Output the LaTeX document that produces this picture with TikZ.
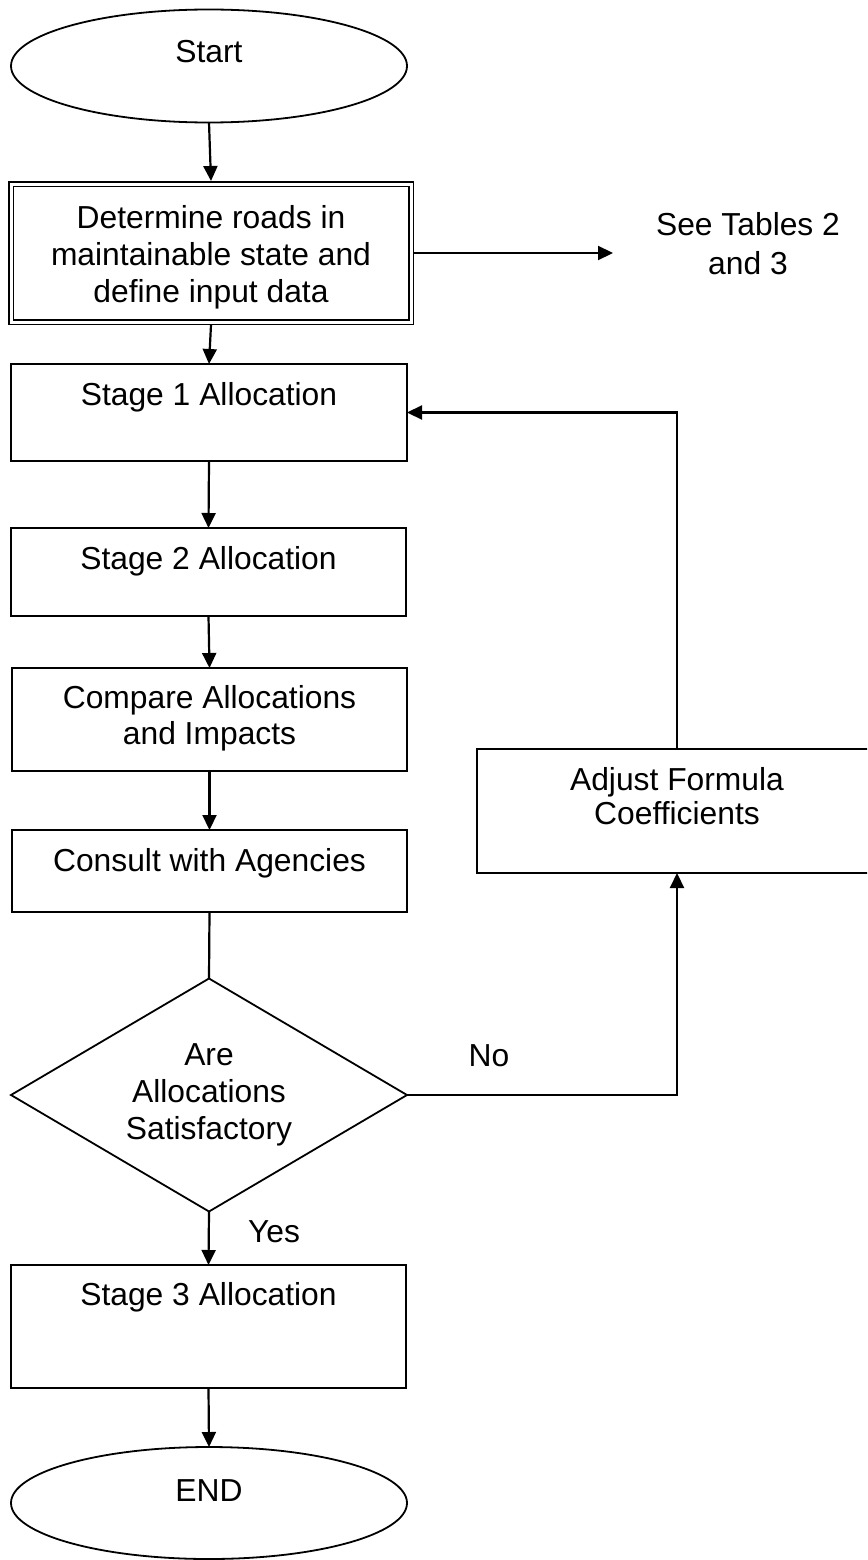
\documentclass[tikz,border=0pt]{standalone}
\usepackage{fontspec}
\setmainfont{Liberation Sans}
\usetikzlibrary{shapes.geometric,arrows.meta}
\begin{document}
\begin{tikzpicture}[x=1pt,y=-1pt,
  every node/.style={font=\fontsize{31.8}{37}\selectfont, inner sep=0pt, outer sep=0pt},
  term/.style={draw, ellipse, line width=1.8pt, minimum width=396pt, minimum height=113pt},
  procbox/.style={draw, rectangle, line width=1.8pt, align=center},
  decbox/.style={draw, diamond, line width=1.8pt, align=center, minimum width=396pt, minimum height=233pt, aspect=1.7},
  flow/.style={line width=2.2pt, -{Triangle[length=15pt,width=14pt]}},
  plain/.style={line width=2.2pt}
]
\useasboundingbox (0,0) rectangle (867,1560);
\clip (0,0) rectangle (867,1560);

\node[term, text height=22pt, text depth=28pt] (start) at (209,66) {Start};

\node[procbox, double, line width=1.6pt, double distance=3pt, outer sep=3pt,
      minimum width=400pt, minimum height=138pt,
      text height=118pt, text depth=20pt] (det) at (211,253)
  {Determine roads in\\maintainable state and\\define input data};

\node[align=center, font=\fontsize{31.8}{39}\selectfont] (see) at (748,244) {See Tables 2\\and 3};
\coordinate (seeend) at (613,253);

\node[procbox, minimum width=396pt, minimum height=97pt, text height=41pt, text depth=56pt] (s1) at (209,412.5) {Stage 1 Allocation};
\node[procbox, minimum width=395pt, minimum height=88pt, text height=41pt, text depth=47pt] (s2) at (208.5,572) {Stage 2 Allocation};
\node[procbox, minimum width=395pt, minimum height=103pt, text height=76pt, text depth=27pt,
      font=\fontsize{31.8}{36}\selectfont] (cmp) at (209.5,719.5) {Compare Allocations\\and Impacts};
\node[procbox, minimum width=395pt, minimum height=82pt, text height=41pt, text depth=41pt] (con) at (209.5,871) {Consult with Agencies};

\node[decbox] (dec) at (209,1095) {Are\\Allocations\\Satisfactory};

\node[procbox, minimum width=395pt, minimum height=123pt, text height=40pt, text depth=83pt] (s3) at (208.5,1326.5) {Stage 3 Allocation};

\node[term, minimum height=112pt, text height=22pt, text depth=26pt] (endn) at (209,1503) {END};

\node[procbox, minimum width=400pt, minimum height=124pt, text height=75pt, text depth=49pt,
      font=\fontsize{31.8}{34}\selectfont] (adj) at (677,811) {Adjust Formula\\Coefficients};

\node (no) at (489,1056) {No};
\node (yes) at (274,1232) {Yes};

\draw[flow] (start.south) -- (det.north);
\draw[flow] (det.east) -- (seeend);
\draw[flow] (det.south) -- (s1.north);
\draw[flow] (s1.south) -- (s2.north);
\draw[flow] (s2.south) -- (cmp.north);
\draw[flow] (cmp.south) -- (con.north);
\draw[plain] (con.south) -- (dec.north);
\draw[flow] (dec.south) -- (s3.north);
\draw[flow] (s3.south) -- (endn.north);
\draw[flow] (dec.east) -| (adj.south);
\draw[flow] (adj.north) |- (s1.east);
\end{tikzpicture}
\end{document}
